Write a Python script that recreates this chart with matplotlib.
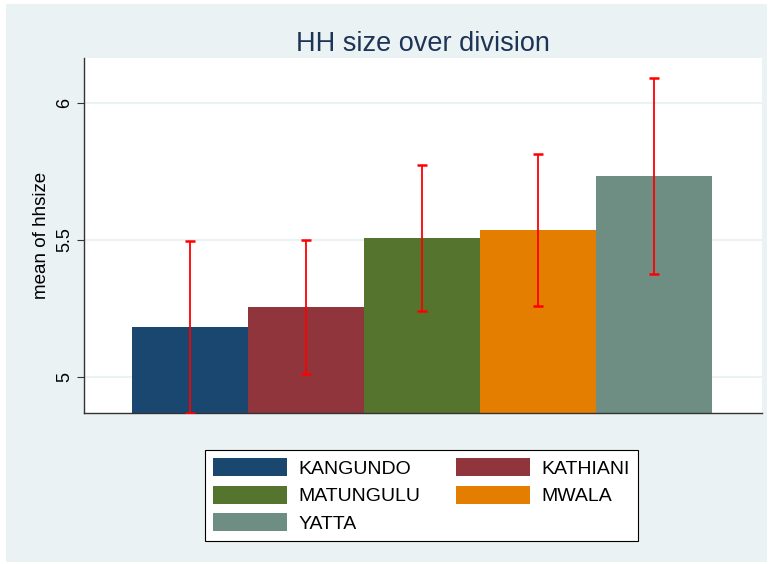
import numpy as np
import matplotlib
matplotlib.use("Agg")
import matplotlib.pyplot as plt
from matplotlib.patches import Rectangle, Patch

plt.rcParams['font.family'] = ['Liberation Sans', 'DejaVu Sans']

# data
divisions = ["KANGUNDO", "KATHIANI", "MATUNGULU", "MWALA", "YATTA"]
means = [5.182, 5.256, 5.507, 5.537, 5.733]
ci_low = [4.868, 5.011, 5.241, 5.259, 5.376]
ci_high = [5.496, 5.500, 5.774, 5.814, 6.091]
colors = ["#1a476f", "#90353b", "#55752f", "#e37e00", "#6e8e84"]
yticks = [5, 5.5, 6]

bg = "#eaf2f3"

fig = plt.figure(figsize=(7.71, 5.64), dpi=100)
fig.patch.set_facecolor("white")
# graph region
fig.patches.append(Rectangle((6/771, 1-562/564), 761/771, 558/564,
                             transform=fig.transFigure, facecolor=bg,
                             edgecolor="none", zorder=-1))

ax = fig.add_axes([84/771, 1-413/564, 678/771, 355/564])
ax.set_zorder(2)
ax.set_facecolor("white")

x = np.arange(len(divisions))
bars = ax.bar(x, means, width=1.0, color=colors, zorder=2)
err = [np.array(means) - np.array(ci_low), np.array(ci_high) - np.array(means)]
ax.errorbar(x, means, yerr=err, fmt="none", ecolor="#ff0000",
            elinewidth=1.3, capsize=3.5, capthick=1.8, zorder=3)

ax.set_ylim(4.869, 6.164)
ax.set_xlim(-0.914, 4.931)
ax.set_yticks(yticks)
ax.set_yticklabels(["5", "5.5", "6"], rotation=90, va="center", fontsize=13)
ax.tick_params(axis="y", length=5, width=0.8, color="#333333", pad=3)
ax.set_xticks([])
ax.grid(axis="y", color=bg, linewidth=1.5, zorder=1)
ax.set_axisbelow(True)
for s in ["top", "right"]:
    ax.spines[s].set_visible(False)
for s in ["left", "bottom"]:
    ax.spines[s].set_color("#333333")
    ax.spines[s].set_linewidth(1.0)

ax.set_ylabel("mean of hhsize", fontsize=13.5, labelpad=4)
ax.set_title("HH size over division", fontsize=19.5, color="#1e3456", pad=5)

# legend filled row by row like the reference
order = [0, 2, 4, 1, 3]
handles = [Patch(facecolor=colors[i], edgecolor="none") for i in order]
labels = [divisions[i] for i in order]
leg = fig.legend(handles, labels, loc="center",
                 bbox_to_anchor=((205+638)/2/771, 1-(450+541)/2/564),
                 ncol=2, fontsize=14, frameon=True, fancybox=False,
                 framealpha=1, handlelength=3.8, handleheight=1.03,
                 handletextpad=0.62, columnspacing=1.8, labelspacing=0.42,
                 borderpad=0.42, borderaxespad=0)
leg.set_zorder(3)
leg.get_frame().set_edgecolor("black")
leg.get_frame().set_linewidth(0.8)
leg.get_frame().set_facecolor("white")

fig.savefig("out.png", dpi=100, facecolor=fig.get_facecolor())
